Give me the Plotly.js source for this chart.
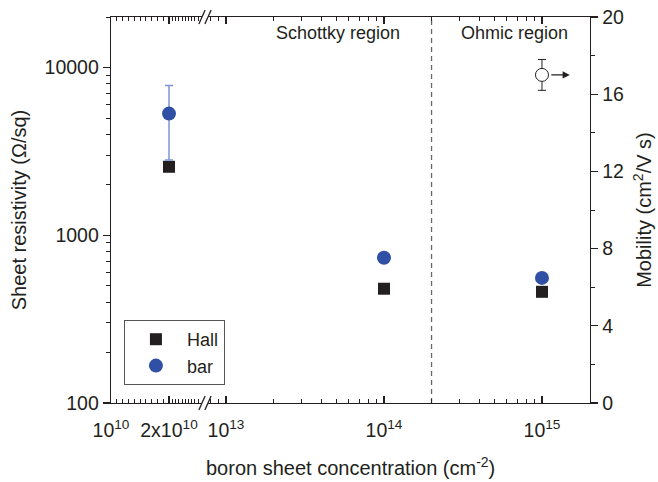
<!DOCTYPE html>
<html>
<head>
<meta charset="utf-8">
<script src="https://cdn.plot.ly/plotly-3.0.1.min.js"></script>
<style>html,body{margin:0;padding:0;background:#fff;}#chart{width:658px;height:482px;}</style>
</head>
<body>
<div id="chart"></div>
<script>
// ---- data ----
const lowConc = [2e10];                 // left (broken) segment
const highConc = [1e14, 1e15];          // right segment
const hallLow = [2560];
const hallHigh = [480, 460];
const barLow = [5310];
const barLowErr = [2500];
const barHigh = [734, 557];
const mobConc = [1e15];
const mobility = [17.0];
const mobilityErr = [0.8];
const boundaryConc = [2e14, 2e14];
const boundaryRes = [100, 20000];
const xTickLow = [1e10, 2e10];
const xTickLowText = ['10<sup>10</sup>', '2x10<sup>10</sup>'];
const xTickHigh = [1e13, 1e14, 1e15];
const xTickHighText = ['10<sup>13</sup>', '10<sup>14</sup>', '10<sup>15</sup>'];
const yTickVals = [100, 1000, 10000];
const yTickText = ['100', '1000', '10000'];

const ink = '#231f20';
const blue = '#3050a5';
const fam = 'Liberation Sans, Arial, sans-serif';
const font = {family: fam, size: 18, color: ink};
const tickFont = {family: fam, size: 19.5, color: ink};
const titleFont = {family: fam, size: 20, color: ink};

// minor ticks
const xMinorLow = [];
for (let k = 11; k < 20; k++) xMinorLow.push(k * 1e9);
for (let k = 1; k <= 10; k++) xMinorLow.push(2e10 + k * 5.6e8);
const xMinorHigh = [];
[1e12, 1e13, 1e14, 1e15].forEach(d => { for (let m = 2; m <= 9; m++) xMinorHigh.push(m * d); });
const yMinor = [];
[100, 1000, 10000].forEach(d => { for (let m = 2; m <= 9; m++) yMinor.push(m * d); });

const traces = [
  {x: lowConc, y: hallLow, xaxis: 'x', yaxis: 'y', type: 'scatter', mode: 'markers', name: 'Hall',
   legendgroup: 'hall', marker: {symbol: 'square', size: 12, color: ink}},
  {x: highConc, y: hallHigh, xaxis: 'x2', yaxis: 'y', type: 'scatter', mode: 'markers', name: 'Hall',
   legendgroup: 'hall', showlegend: false, marker: {symbol: 'square', size: 12, color: ink}},
  {x: lowConc, y: barLow, xaxis: 'x', yaxis: 'y', type: 'scatter', mode: 'markers', name: 'bar',
   legendgroup: 'bar', marker: {symbol: 'circle', size: 14, color: blue},
   error_y: {type: 'data', array: barLowErr, visible: true, color: '#7f95d6', thickness: 1.5, width: 4}},
  {x: highConc, y: barHigh, xaxis: 'x2', yaxis: 'y', type: 'scatter', mode: 'markers', name: 'bar',
   legendgroup: 'bar', showlegend: false, marker: {symbol: 'circle', size: 14, color: blue}},
  {x: boundaryConc, y: boundaryRes, xaxis: 'x2', yaxis: 'y', type: 'scatter', mode: 'lines',
   showlegend: false, hoverinfo: 'skip', line: {color: '#666', width: 1.3, dash: '5px,4px'}},
  {x: mobConc, y: mobility, xaxis: 'x2', yaxis: 'y2', type: 'scatter', mode: 'markers', showlegend: false,
   marker: {symbol: 'circle', size: 13, color: '#fff', line: {color: ink, width: 1}},
   error_y: {type: 'data', array: mobilityErr, visible: true, color: ink, thickness: 1, width: 4}}
];

const axisCommon = {showline: true, linecolor: ink, linewidth: 1.3, showgrid: false, zeroline: false,
  tickfont: tickFont, tickcolor: ink, tickwidth: 1.3, fixedrange: true};

const brk = [0.190, 0.2025];
const shapes = [];
brk.forEach(p => {
  [0, 1].forEach(yy => {
    shapes.push({type: 'line', xref: 'paper', yref: 'paper', x0: p - 0.0065, x1: p + 0.0065,
      y0: yy - 0.018, y1: yy + 0.018, line: {color: ink, width: 1.3}});
  });
});

const layout = {
  width: 658, height: 482,
  margin: {l: 111, r: 68, t: 17, b: 79},
  paper_bgcolor: '#fff', plot_bgcolor: '#fff',
  font: font,
  showlegend: true,
  legend: {x: 0.027, y: 0.215, xanchor: 'left', yanchor: 'top', bordercolor: '#555', borderwidth: 1,
    bgcolor: '#fff', font: {family: fam, size: 18, color: ink}, tracegroupgap: 0, itemwidth: 52},
  xaxis: Object.assign({}, axisCommon, {
    type: 'linear', domain: [0, brk[0]], range: [1e10, 2.569e10], anchor: 'y',
    tickmode: 'array', tickvals: xTickLow, ticktext: xTickLowText,
    ticks: 'inside', ticklen: 7, mirror: 'ticks', ticklabelstandoff: 9,
    minor: {tickmode: 'array', tickvals: xMinorLow, ticks: 'inside', ticklen: 4, tickcolor: ink, tickwidth: 1}
  }),
  xaxis2: Object.assign({}, axisCommon, {
    type: 'log', domain: [brk[1], 1], range: [12.886, 15.304], anchor: 'y',
    tickmode: 'array', tickvals: xTickHigh, ticktext: xTickHighText,
    ticks: 'inside', ticklen: 7, mirror: 'ticks', ticklabelstandoff: 9,
    minor: {tickmode: 'array', tickvals: xMinorHigh, ticks: 'inside', ticklen: 4, tickcolor: ink, tickwidth: 1}
  }),
  yaxis: Object.assign({}, axisCommon, {
    type: 'log', range: [2, Math.log10(20000)], anchor: 'x',
    tickmode: 'array', tickvals: yTickVals, ticktext: yTickText,
    ticks: 'outside', ticklen: 7,
    minor: {tickmode: 'array', tickvals: yMinor, ticks: 'outside', ticklen: 4, tickcolor: ink, tickwidth: 1},
    title: {text: 'Sheet resistivity (Ω/sq)', font: titleFont, standoff: 12}
  }),
  yaxis2: Object.assign({}, axisCommon, {
    type: 'linear', range: [0, 20], overlaying: 'y', side: 'right', anchor: 'x2',
    tickmode: 'linear', tick0: 0, dtick: 4, ticks: 'outside', ticklen: 7,
    minor: {dtick: 2, ticks: 'outside', ticklen: 4, tickcolor: ink, tickwidth: 1},
    title: {text: 'Mobility (cm<sup>2</sup>/V s)', font: titleFont, standoff: 14}
  }),
  shapes: shapes,
  annotations: [
    {xref: 'paper', yref: 'paper', x: 0.5, y: -0.165, text: 'boron sheet concentration (cm<sup>-2</sup>)',
      showarrow: false, font: titleFont, xanchor: 'center', yanchor: 'middle'},
    {xref: 'paper', yref: 'paper', x: 0.474, y: 0.9585, text: 'Schottky region', showarrow: false,
      font: font, xanchor: 'center', yanchor: 'middle'},
    {xref: 'paper', yref: 'paper', x: 0.843, y: 0.9585, text: 'Ohmic region', showarrow: false,
      font: font, xanchor: 'center', yanchor: 'middle'},
    {xref: 'x2', yref: 'y2', x: Math.log10(mobConc[0] * 1.5), y: mobility[0], ax: -20, ay: 0,
      text: '', showarrow: true, arrowhead: 2, arrowsize: 1.2, arrowwidth: 1.2, arrowcolor: ink, standoff: 0}
  ]
};

Plotly.newPlot('chart', traces, layout, {displayModeBar: false, staticPlot: true});
</script>
</body>
</html>
